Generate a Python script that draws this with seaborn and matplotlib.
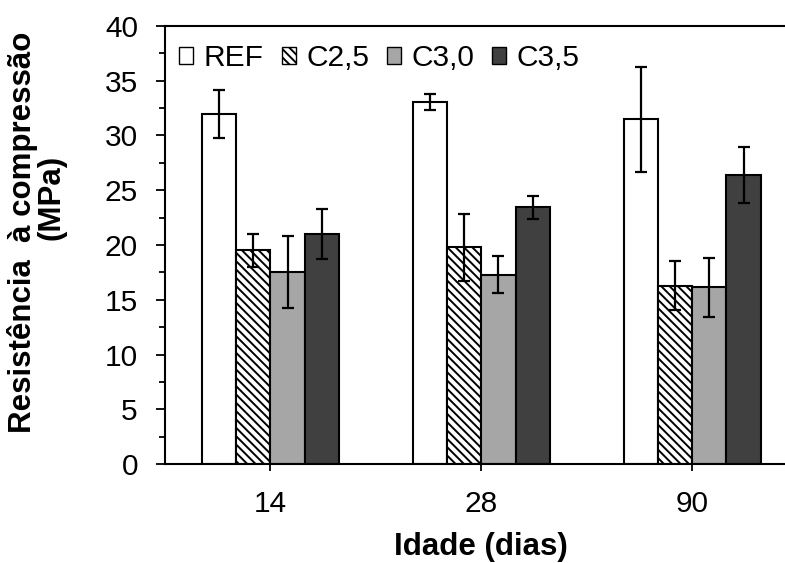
import matplotlib
matplotlib.use("Agg")
import matplotlib.pyplot as plt
from matplotlib.patches import Patch
from matplotlib.ticker import MultipleLocator
import seaborn as sns
import pandas as pd

ages = ["14", "28", "90"]
series = ["REF", "C2,5", "C3,0", "C3,5"]
ref_mean = [32.0, 33.05, 31.5]
c25_mean = [19.5, 19.8, 16.3]
c30_mean = [17.55, 17.3, 16.15]
c35_mean = [21.0, 23.45, 26.4]
ref_err = [2.2, 0.7, 4.8]
c25_err = [1.5, 3.05, 2.2]
c30_err = [3.3, 1.7, 2.7]
c35_err = [2.3, 1.05, 2.55]

means = [ref_mean, c25_mean, c30_mean, c35_mean]
errs = [ref_err, c25_err, c30_err, c35_err]

rows = []
for s, m, e in zip(series, means, errs):
    for a, mv, ev in zip(ages, m, e):
        rows.append({"Idade": a, "Serie": s, "valor": mv, "erro": ev})
df = pd.DataFrame(rows)

sns.set_style("white")
plt.rcParams["font.family"] = ["Liberation Sans", "DejaVu Sans"]
plt.rcParams["hatch.linewidth"] = 1.4
plt.rcParams["hatch.color"] = "#404040"
for k in ["text.color", "axes.labelcolor", "xtick.color", "ytick.color"]:
    plt.rcParams[k] = "black"

colors = {"REF": "#FFFFFF", "C2,5": "#FFFFFF", "C3,0": "#A6A6A6", "C3,5": "#404040"}
hatches = {"REF": "", "C2,5": "\\\\\\\\", "C3,0": "", "C3,5": ""}

W, H = 785, 563
fig = plt.figure(figsize=(W / 100, H / 100), dpi=100)
ax = fig.add_axes([165 / W, (H - 464) / H, (785 - 165) / W, (464 - 26) / H])

sns.barplot(data=df, x="Idade", y="valor", hue="Serie", order=ages, hue_order=series,
            palette=colors, width=0.65, errorbar=None, edgecolor="black",
            linewidth=1.5, legend=False, ax=ax)

for cont, s in zip(ax.containers, series):
    sub = df[df["Serie"] == s].set_index("Idade").loc[ages]
    xs = []
    for bar in cont:
        bar.set_hatch(hatches[s])
        bar.set_edgecolor("black")
        if hasattr(bar, "set_hatchcolor"):
            bar.set_hatchcolor("#404040")
        xs.append(bar.get_x() + bar.get_width() / 2)
    ax.errorbar(xs, sub["valor"].values, yerr=sub["erro"].values, fmt="none",
                ecolor="black", elinewidth=1.6, capsize=4, capthick=1.6, zorder=5)

ax.set_xlim(-0.5, 2.44)
ax.set_ylim(0, 40)
ax.yaxis.set_major_locator(MultipleLocator(5))
ax.yaxis.set_minor_locator(MultipleLocator(2.5))
ax.tick_params(axis="y", which="major", direction="out", length=6.5, width=1.3,
               labelsize=21.5, pad=13, left=True, colors="black")
ax.tick_params(axis="y", which="minor", direction="out", length=4.3, width=1.3, left=True,
               colors="black")
ax.tick_params(axis="x", direction="out", length=5, width=1.3, labelsize=21.5,
               pad=14, bottom=True, colors="black")
ax.set_xlabel("")
ax.set_ylabel("")
for side in ["left", "bottom", "top"]:
    ax.spines[side].set_visible(True)
    ax.spines[side].set_linewidth(1.5)
    ax.spines[side].set_color("black")
ax.spines["right"].set_visible(False)

fig.text(481 / W, 1 - 547 / H, "Idade (dias)", ha="center", va="center",
         fontsize=22.5, fontweight="bold", color="black")
fig.text(23 / W, 1 - 232 / H, "Resistência  à compressão", ha="center", va="center",
         rotation=90, fontsize=22.5, fontweight="bold", color="black")
fig.text(52 / W, 1 - 197 / H, "(MPa)", ha="center", va="center",
         rotation=90, fontsize=22.5, fontweight="bold", color="black")

handles = []
for s in series:
    p = Patch(facecolor=colors[s], edgecolor="black", hatch=hatches[s], linewidth=1.0)
    if hasattr(p, "set_hatchcolor"):
        p.set_hatchcolor("#404040")
    handles.append(p)
ax.legend(handles, series, loc="upper left", bbox_to_anchor=(-0.006, 1.0), ncol=4,
          frameon=False, fontsize=21.5, handlelength=0.47, handleheight=0.47,
          handletextpad=0.35, columnspacing=0.6, borderaxespad=0.4, borderpad=0.2,
          labelcolor="black")

fig.savefig("out.png", dpi=100)
